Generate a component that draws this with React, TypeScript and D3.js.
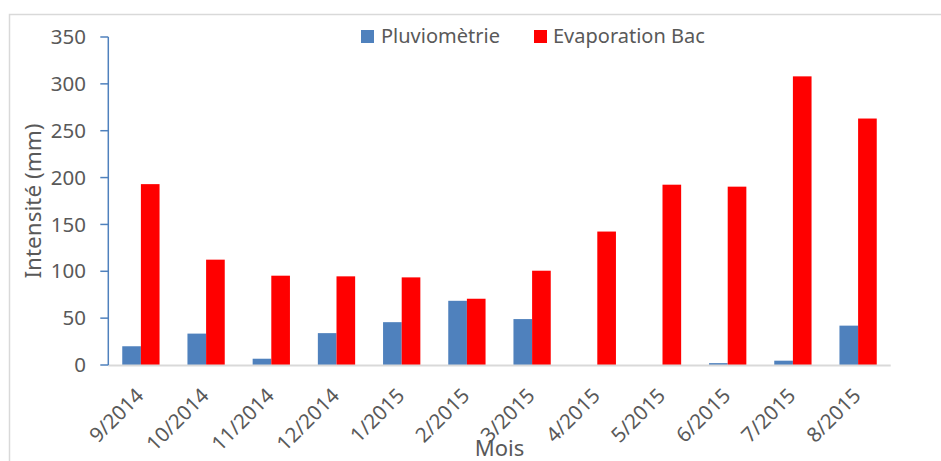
import React from "react";
import * as d3 from "d3";

const months = ["9/2014", "10/2014", "11/2014", "12/2014", "1/2015", "2/2015", "3/2015", "4/2015", "5/2015", "6/2015", "7/2015", "8/2015"];
const pluviometrie = [20, 33.5, 6.7, 34, 45.7, 68.5, 49, 0, 0, 2, 4.6, 42];
const evaporation = [193, 112.4, 95.3, 94.6, 93.5, 70.7, 100.6, 142.4, 192.4, 190.3, 308, 263];
const yTicks = [0, 50, 100, 150, 200, 250, 300, 350];
const seriesNames = ["Pluviomètrie", "Evaporation Bac"];

const W = 941;
const H = 461;
const FONT = "'Noto Sans', 'Open Sans', sans-serif";
const TEXT = "#595959";
const BLUE = "#4F81BD";
const RED = "#FF0000";

export default function App() {
  const left = 108.3;
  const right = 890.7;
  const top = 37;
  const bottom = 365;

  const x = d3.scaleBand<string>().domain(months).range([left, right]).paddingInner(0.428).paddingOuter(0.214);
  const sub = d3.scaleBand<string>().domain(seriesNames).range([0, x.bandwidth()]);
  const y = d3.scaleLinear().domain([0, 350]).range([bottom, top]);

  const series = [
    { name: seriesNames[0], values: pluviometrie, color: BLUE },
    { name: seriesNames[1], values: evaporation, color: RED },
  ];

  return (
    <svg width={W} height={H} style={{ position: "absolute", left: 0, top: 0, background: "#fff" }} fontFamily={FONT}>
      {/* chart frame */}
      <rect x={9.5} y={14.5} width={W + 20} height={H + 20} fill="#fff" stroke="#d9d9d9" strokeWidth={1.5} />

      {/* bars */}
      {series.map((s) => (
        <g key={s.name}>
          {months.map((m, i) => {
            const v = s.values[i];
            if (v <= 0) return null;
            return (
              <rect
                key={m}
                x={(x(m) ?? 0) + (sub(s.name) ?? 0)}
                y={y(v)}
                width={sub.bandwidth()}
                height={y(0) - y(v)}
                fill={s.color}
              />
            );
          })}
        </g>
      ))}

      {/* x axis */}
      <line x1={left} x2={right} y1={bottom + 0.5} y2={bottom + 0.5} stroke="#d9d9d9" strokeWidth={2} />
      {months.map((m) => {
        const cx = (x(m) ?? 0) + x.bandwidth() / 2;
        return (
          <text
            key={m}
            transform={`translate(${cx + 4},${bottom + 32}) rotate(-45)`}
            textAnchor="end"
            fontSize={20.5}
            fill={TEXT}
          >
            {m}
          </text>
        );
      })}

      {/* y axis */}
      <line x1={left} x2={left} y1={top} y2={bottom} stroke={BLUE} strokeWidth={1.5} />
      {yTicks.map((t) => (
        <g key={t}>
          <line x1={left - 8} x2={left} y1={y(t)} y2={y(t)} stroke={BLUE} strokeWidth={1.5} />
          <text x={86} y={y(t)} dy="0.35em" textAnchor="end" fontSize={20.5} fill={TEXT}>
            {t}
          </text>
        </g>
      ))}

      {/* axis titles */}
      <text transform={`translate(41,201) rotate(-90)`} textAnchor="middle" fontSize={22.5} fill={TEXT}>
        Intensité (mm)
      </text>
      <text x={(left + right) / 2} y={456} textAnchor="middle" fontSize={22} fill={TEXT}>
        Mois
      </text>

      {/* legend */}
      <rect x={361} y={30} width={13} height={13} fill={BLUE} />
      <text x={381} y={43} fontSize={20} fill={TEXT}>
        {seriesNames[0]}
      </text>
      <rect x={534} y={30} width={13} height={13} fill={RED} />
      <text x={553} y={43} fontSize={20} fill={TEXT}>
        {seriesNames[1]}
      </text>
    </svg>
  );
}
